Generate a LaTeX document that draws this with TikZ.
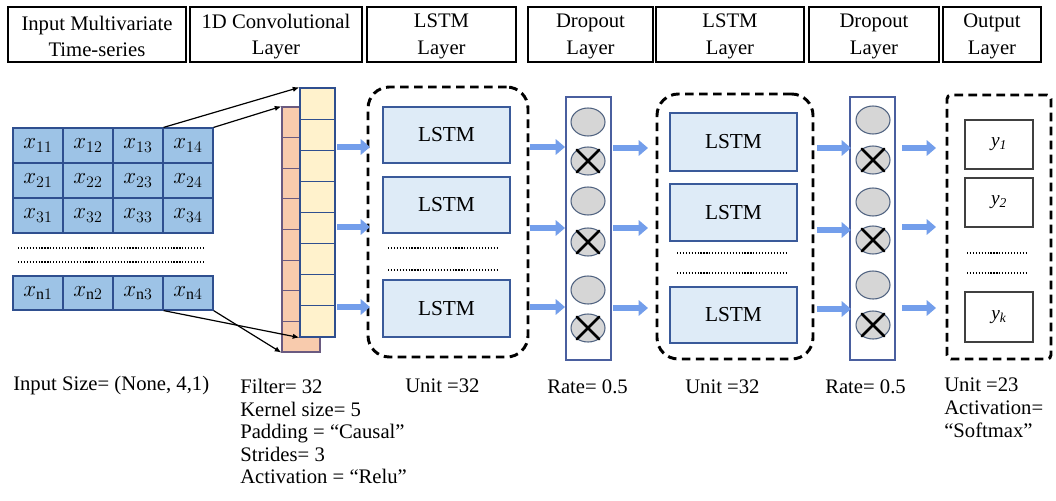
\documentclass[tikz,border=0pt]{standalone}
\usepackage{fontspec}
\setmainfont{Liberation Serif}
\usetikzlibrary{arrows.meta,shapes.geometric,fit,calc}
\definecolor{cellblue}{HTML}{9DC3E6}
\definecolor{cellborder}{HTML}{2F4F8F}
\definecolor{convyellow}{HTML}{FFF2CC}
\definecolor{salmon}{HTML}{F8CBAD}
\definecolor{salmonborder}{HTML}{6A5A80}
\definecolor{lstmfill}{HTML}{DEEBF7}
\definecolor{lstmborder}{HTML}{3A5A9A}
\definecolor{dropborder}{HTML}{4A5F9F}
\definecolor{gatefill}{HTML}{D6D6D6}
\definecolor{gateborder}{HTML}{4F6280}
\definecolor{outborder}{HTML}{404040}
\definecolor{flowblue}{RGB}{115,158,235}
\tikzset{
 hdr/.style={draw=black, line width=2pt, inner sep=0pt},
 hdrtext/.style={align=center, inner sep=0pt, yshift=-1.5pt, font=\fontsize{15.5}{20}\selectfont},
 cell/.style={draw=cellborder, fill=cellblue, line width=0.9pt, minimum width=37.5pt, minimum height=26.25pt, inner sep=0pt, font=\fontsize{17}{17}\selectfont},
 ycell/.style={draw=cellborder, fill=convyellow, line width=0.9pt, minimum width=26.25pt, minimum height=23.34pt, inner sep=0pt},
 scell/.style={draw=salmonborder, fill=salmon, line width=0.9pt, minimum width=28.5pt, minimum height=22.97pt, inner sep=0pt},
 lstmbox/.style={draw=lstmborder, fill=lstmfill, line width=0.9pt, inner sep=0pt},
 lstmtext/.style={inner sep=0pt, font=\fontsize{16}{16}\selectfont},
 dashbox/.style={draw=black, line width=2.2pt, dash pattern=on 6.5pt off 4pt, inner sep=0pt, rounded corners=16pt},
 dropcol/.style={draw=dropborder, fill=white, line width=0.9pt, inner sep=0pt},
 gate/.style={ellipse, draw=gateborder, fill=gatefill, line width=0.8pt, minimum width=25.5pt, minimum height=21pt, inner sep=0pt},
 outbox/.style={draw=outborder, fill=white, line width=0.9pt, inner sep=0pt},
 outtext/.style={inner sep=0pt, font=\fontsize{14.5}{14.5}\selectfont\itshape},
 cross/.style={line width=2pt, line cap=round},
 flow/.style={line width=4.8pt, draw=flowblue, -{Triangle[length=7pt,width=11.5pt]}},
 feed/.style={line width=0.9pt, -{Latex[length=5pt,width=4pt]}},
 dots/.style={line width=1.2pt, dash pattern=on 0.9pt off 1.3pt},
 lbl/.style={inner sep=0pt, align=left, font=\fontsize{15.5}{16.9}\selectfont}
}
\begin{document}
\begin{tikzpicture}[x=0.75pt,y=-0.75pt]
\path[use as bounding box, fill=white] (0,0) rectangle (1056,500);
% headers
\node[hdr, fit={(8,7) (186,62)}, label={[hdrtext]center:Input Multivariate\\Time-series}] (h1) {};
\node[hdr, fit={(190,7) (362,62)}, label={[hdrtext]center:1D Convolutional\\Layer}] (h2) {};
\node[hdr, fit={(367,7) (516,62)}, label={[hdrtext]center:LSTM\\Layer}] (h3) {};
\node[hdr, fit={(528,7) (653,62)}, label={[hdrtext]center:Dropout\\Layer}] (h4) {};
\node[hdr, fit={(656,7) (804,62)}, label={[hdrtext]center:LSTM\\Layer}] (h5) {};
\node[hdr, fit={(809,7) (939,62)}, label={[hdrtext]center:Dropout\\Layer}] (h6) {};
\node[hdr, fit={(943,7) (1041,62)}, label={[hdrtext]center:Output\\Layer}] (h7) {};
% input grid
\foreach \r/\ry in {1/145.5,2/180.5,3/215.5}{
  \foreach \c in {1,2,3,4}{
    \node[cell] (c\r\c) at ({13+50*(\c-0.5)},\ry) {$x_{\r\c}$};
  }
}
\foreach \c in {1,2,3,4}{
  \node[cell, minimum height=25.5pt] (cn\c) at ({13+50*(\c-0.5)},293) {$x_{\mathrm{n}\c}$};
}
\draw[dots] (18,248) -- (205,248);
\draw[dots] (18,262) -- (205,262);
% conv layer
\foreach \i in {1,...,8}{
  \node[scell] (s\i) at (301,{107+30.625*(\i-0.5)}) {};
}
\foreach \i in {1,...,8}{
  \node[ycell] (y\i) at (317.5,{88+31.125*(\i-0.5)}) {};
}
\draw[feed] (c13.north east) -- (y1.north west);
\draw[feed] (c14.north east) -- (s1.north west);
\draw[feed] (cn3.south east) -- (y8.south west);
\draw[feed] (cn4.south east) -- (s8.south west);
% LSTM layer 1
\node[dashbox, fit={(368,87) (528,357)}] (d1) {};
\node[lstmbox, fit={(383,107) (510,163)}, label={[lstmtext]center:LSTM}] (l1a) {};
\node[lstmbox, fit={(383,177) (510,233)}, label={[lstmtext]center:LSTM}] (l1b) {};
\node[lstmbox, fit={(383,280) (510,337)}, label={[lstmtext]center:LSTM}] (l1c) {};
\draw[dots] (388,248) -- (498,248);
\draw[dots] (388,270) -- (498,270);
% dropout 1
\node[dropcol, fit={(566,97) (611,360)}] (p1) {};
\foreach \k/\yy in {1/122,2/161,3/201,4/242,5/290,6/328}{
  \node[gate] (g1\k) at (588,\yy) {};
}
\foreach \k in {2,4,6}{
  \draw[cross] (g1\k.45) -- (g1\k.225) (g1\k.135) -- (g1\k.315);
}
% LSTM layer 2
\node[dashbox, fit={(657,94) (813,359)}] (d2) {};
\node[lstmbox, fit={(670,113) (797,171)}, label={[lstmtext]center:LSTM}] (l2a) {};
\node[lstmbox, fit={(670,184) (797,241)}, label={[lstmtext]center:LSTM}] (l2b) {};
\node[lstmbox, fit={(670,287) (797,343)}, label={[lstmtext]center:LSTM}] (l2c) {};
\draw[dots] (677,253) -- (787,253);
\draw[dots] (677,273) -- (787,273);
% dropout 2
\node[dropcol, fit={(850,97) (895,360)}] (p2) {};
\foreach \k/\yy in {1/120,2/160,3/202,4/240,5/285,6/325}{
  \node[gate] (g2\k) at (873,\yy) {};
}
\foreach \k in {2,4,6}{
  \draw[cross] (g2\k.45) -- (g2\k.225) (g2\k.135) -- (g2\k.315);
}
% output
\node[dashbox, rounded corners=3pt, fit={(947,95) (1051,359)}] (d3) {};
\node[outbox, fit={(965,120) (1033,169)}, label={[outtext]center:y\textsubscript{1}}] (o1) {};
\node[outbox, fit={(965,178) (1033,227)}, label={[outtext]center:y\textsubscript{2}}] (o2) {};
\node[outbox, fit={(965,292) (1033,342)}, label={[outtext]center:y\textsubscript{k}}] (ok) {};
\draw[dots] (967,253) -- (1028,253);
\draw[dots] (967,273) -- (1028,273);
% flow arrows
\foreach \yy in {147,227,307}{ \draw[flow] (337,\yy) -- (370,\yy); }
\foreach \yy in {147,228,307}{ \draw[flow] (530,\yy) -- (565,\yy); }
\foreach \yy in {148,228,308}{ \draw[flow] (613,\yy) -- (648,\yy); }
\foreach \yy in {148,230,309}{ \draw[flow] (817,\yy) -- (851,\yy); }
\foreach \yy in {148,227,308}{ \draw[flow] (902,\yy) -- (936,\yy); }
% bottom labels
\node[lbl, anchor=west] (t1) at (13,386) {Input Size= (None, 4,1)};
\node[lbl, anchor=north west] (t2) at (240,379) {Filter= 32\\Kernel size= 5\\Padding = “Causal”\\Strides= 3\\Activation = “Relu”};
\node[lbl, anchor=west] (t3) at (405,386) {Unit =32};
\node[lbl, anchor=west] (t4) at (547,387) {Rate= 0.5};
\node[lbl, anchor=west] (t5) at (685,387) {Unit =32};
\node[lbl, anchor=west] (t6) at (825,387) {Rate= 0.5};
\node[lbl, anchor=north west] (t7) at (944,378) {Unit =23\\Activation=\\“Softmax”};
\end{tikzpicture}
\end{document}
